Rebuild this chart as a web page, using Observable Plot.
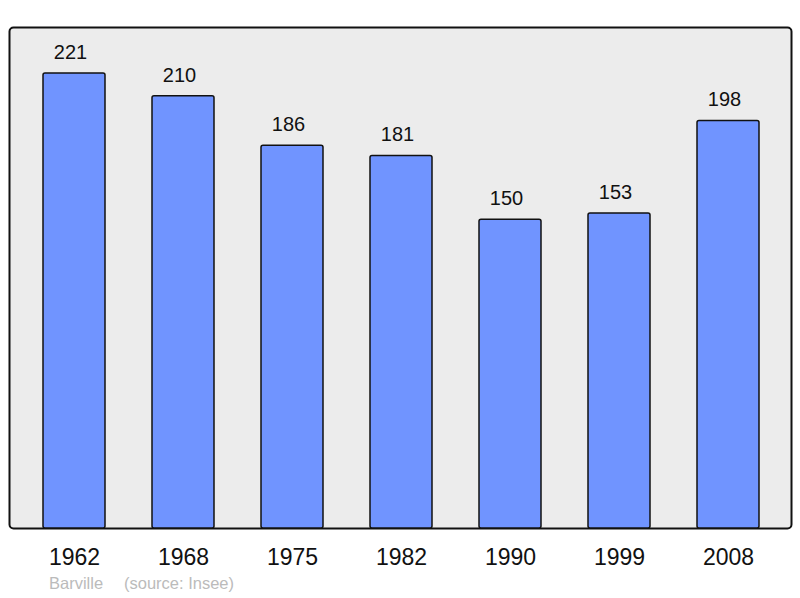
<!DOCTYPE html>
<html>
<head>
<meta charset="utf-8">
<script src="https://cdn.jsdelivr.net/npm/d3@7"></script>
<script src="https://cdn.jsdelivr.net/npm/@observablehq/plot@0.6"></script>
<style>
  html, body { margin: 0; padding: 0; background: #fff; }
  #wrap { position: relative; width: 800px; height: 598px; font-family: "Liberation Sans", Arial, sans-serif; }
  .cap { position: absolute; top: 574px; font-size: 16.5px; color: #bbbbbb; white-space: pre; }
</style>
</head>
<body>
<div id="wrap"><div class="cap" style="left:49px">Barville</div><div class="cap" style="left:124px">(source: Insee)</div></div>
<script>
const years = ["1962", "1968", "1975", "1982", "1990", "1999", "2008"];
const population = [221, 210, 186, 181, 150, 153, 198];

const data = years.map((y, i) => ({year: y, pop: population[i]}));

const chart = Plot.plot({
  width: 800,
  height: 598,
  marginLeft: 9,
  marginRight: 9,
  marginTop: 27,
  marginBottom: 70,
  style: {fontFamily: "Liberation Sans, Arial, sans-serif", background: "white"},
  x: {domain: years, range: [18.3, 784.2], paddingInner: 0.433, paddingOuter: 0.2165, label: null},
  y: {domain: [0, 243.4], axis: null},
  marks: [
    Plot.frame({fill: "#ececec", stroke: "#111", strokeWidth: 2, rx: 4}),
    Plot.barY(data, {x: "year", y: "pop", fill: "#7094ff", stroke: "#111", strokeWidth: 1.5, rx: 2, inset: 0}),
    Plot.text(data, {x: "year", y: "pop", text: d => String(d.pop), dx: -4, dy: -21, fontSize: 20, fill: "#111"}),
    Plot.axisX({tickSize: 0, tickPadding: 20, fontSize: 23, color: "#111", label: null})
  ]
});
document.getElementById("wrap").prepend(chart);
</script>
</body>
</html>
